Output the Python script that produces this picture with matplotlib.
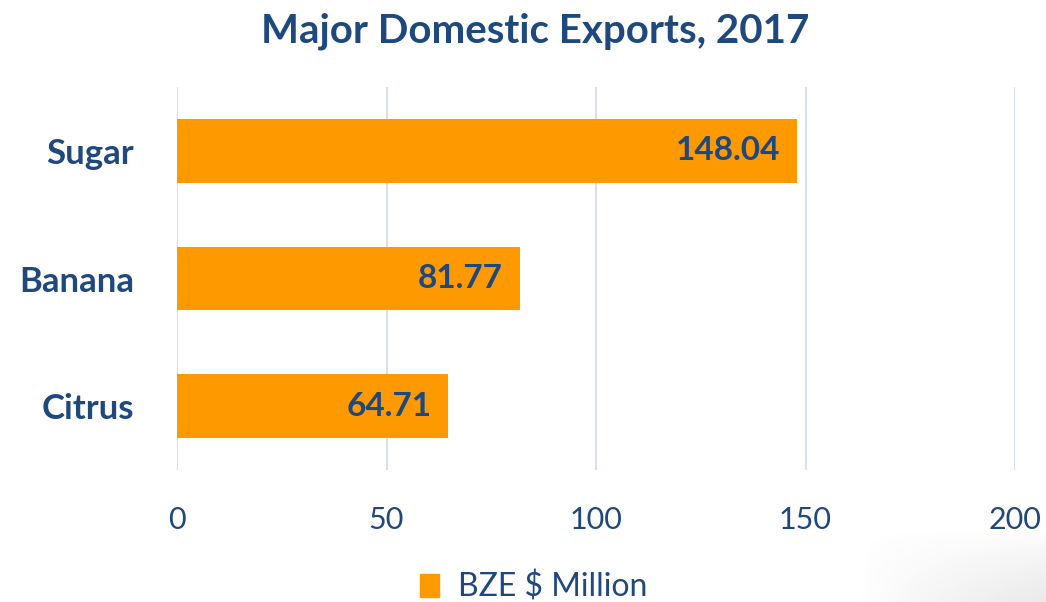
import matplotlib
matplotlib.use("Agg")
import matplotlib.pyplot as plt
from matplotlib.patches import Patch
import numpy as np

categories = ["Sugar", "Banana", "Citrus"]
values = [148.04, 81.77, 64.71]
xticks = [0, 50, 100, 150, 200]
series_name = "BZE $ Million"
title = "Major Domestic Exports, 2017"

ORANGE = "#FF9900"
BLUE = "#1F497D"
GRID = "#D6E0F0"

plt.rcParams['font.family'] = ['Lato', 'DejaVu Sans']

fig = plt.figure(figsize=(10.46, 6.02), dpi=100)

# subtle corner shading (slide decoration)
bg = fig.add_axes([0, 0, 1, 1], zorder=-10)
H, W = 602, 1046
yy, xx = np.mgrid[0:H, 0:W]
u = np.clip((xx - 860) / 186.0, 0, 1)
v = np.clip((yy - 530) / 72.0, 0, 1)
alpha = 0.16 * (u * v) ** 0.8
img = np.zeros((H, W, 4))
img[..., :3] = 0.45
img[..., 3] = alpha
bg.imshow(img, extent=(0, W, H, 0), aspect='auto', interpolation='bilinear')
bg.set_axis_off()

ax = fig.add_axes([177/1046, 1-470/602, (1015-177)/1046, (470-87)/602])
ax.patch.set_alpha(0)

ypos = list(range(len(categories)))
ax.barh(ypos, values, height=0.5, color=ORANGE, zorder=3)
ax.set_ylim(len(categories)-0.5, -0.5)
ax.set_xlim(0, 200)
ax.set_xticks(xticks)
ax.set_xticklabels([str(t) for t in xticks], fontsize=22, color=BLUE)
ax.set_yticks(ypos)
ax.set_yticklabels(categories, fontsize=25, fontweight='bold', color=BLUE)
ax.tick_params(axis='x', length=0, pad=26)
ax.tick_params(axis='y', length=0, pad=31)
ax.grid(axis='x', color=GRID, linewidth=1.5, zorder=0)
for s_ in ax.spines.values():
    s_.set_visible(False)

for y, val in zip(ypos, values):
    ax.annotate(f"{val:.2f}", xy=(val, y), xytext=(-12, 0), textcoords='offset points',
                ha='right', va='center', fontsize=24, fontweight='bold', color=BLUE, zorder=4)

fig.text(535/1046, 1-31/602, title, ha='center', va='center', fontsize=29,
         fontweight='bold', color=BLUE)

fig.legend(handles=[Patch(color=ORANGE)], labels=[series_name], loc='center',
           bbox_to_anchor=(534/1046, 1-587/602), frameon=False, fontsize=23,
           labelcolor=BLUE, handlelength=0.6, handleheight=0.7, handletextpad=0.6)

fig.savefig("out.png", dpi=100)
